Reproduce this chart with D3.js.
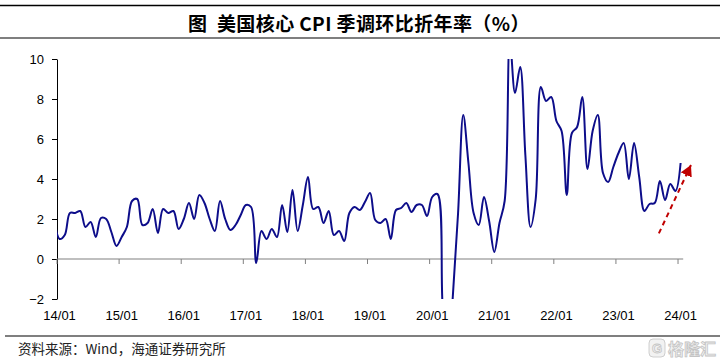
<!DOCTYPE html>
<html>
<head>
<meta charset="utf-8">
<script src="https://cdn.jsdelivr.net/npm/d3@7/dist/d3.min.js"></script>
<style>
  body { margin: 0; background: #fff; }
  svg { display: block; }
</style>
</head>
<body>
<svg width="720" height="362"></svg>
<script>
// tekst
const title = '图  美国核心 CPI 季调环比折年率（%）';
const source = '资料来源：Wind，海通证券研究所';

// maandreeks begint 2013/12 (valt net buiten de plot, wordt geclipt)
const firstMonth = new Date(2013, 11, 1);
const values = [
  2.0,
  1.0, 1.2, 2.3, 2.3, 2.4, 1.6, 1.85, 1.1, 2.05, 2.0, 1.35, 0.65,   // 2014
  1.1, 1.6, 2.9, 3.0, 1.7, 1.8, 2.5, 1.3, 2.5, 2.3, 2.4, 1.5,       // 2015
  2.0, 2.8, 2.0, 3.2, 2.8, 2.0, 1.4, 2.9, 2.0, 1.45, 1.7, 2.2,      // 2016
  2.7, 2.6, -0.2, 1.4, 1.0, 1.5, 1.1, 2.7, 1.35, 3.45, 1.4, 2.7,    // 2017
  4.1, 2.5, 2.6, 1.8, 2.4, 1.2, 1.4, 0.9, 2.3, 2.6, 2.45, 2.85,     // 2018
  3.3, 1.95, 1.8, 2.0, 1.0, 2.45, 2.55, 2.8, 2.35, 2.7, 2.7, 2.15,  // 2019
  3.1, 3.25, -2.3, -5.5, -1.8, 2.3, 7.2, 4.8, 2.3, 1.7, 3.1, 1.9,   // 2020
  0.35, 1.8, 2.9, 11.0, 8.3, 9.6, 5.2, 1.6, 3.0, 8.6, 7.9, 8.1,     // 2021
  6.9, 6.4, 3.2, 6.3, 6.6, 8.1, 4.5, 6.4, 7.2, 4.3, 3.85, 4.6,      // 2022
  5.3, 5.8, 4.0, 5.8, 4.1, 2.4, 2.75, 2.8, 3.9, 2.95, 3.75, 3.4,    // 2023
  4.8                                                              // 2024/01
];
const yTicks = [-2, 0, 2, 4, 6, 8, 10];
const xTickLabels = ['14/01', '15/01', '16/01', '17/01', '18/01', '19/01',
                     '20/01', '21/01', '22/01', '23/01', '24/01'];

// pijl-annotatie (in maandindex t.o.v. 2014/01 en waarde)
const arrowFrom = {m: 115.8, v: 1.28};
const arrowTo = {m: 122.0, v: 4.7};

const svg = d3.select('svg');
const width = +svg.attr('width');
const height = +svg.attr('height');

const margin = {top: 59, right: 37, bottom: 63, left: 57};
const nMonths = 121; // 2014/01 .. 2024/01

const monthIndex = d => (d.getFullYear() - 2014) * 12 + d.getMonth();
const data = values.map((v, i) => ({date: d3.timeMonth.offset(firstMonth, i), value: v}));

// categorie-as: punten in het midden van elke maand
const x = d3.scaleLinear()
    .domain([0, nMonths])
    .range([margin.left, width - margin.right + 0.2]);
const y = d3.scaleLinear()
    .domain([-2, 10])
    .range([height - margin.bottom, margin.top]);

// titel met lijnen
svg.append('line')
    .attr('x1', 0).attr('x2', width).attr('y1', 5.5).attr('y2', 5.5)
    .attr('stroke', '#000').attr('stroke-width', 1.5);
svg.append('text')
    .attr('x', 359).attr('y', 22)
    .attr('text-anchor', 'middle').attr('dominant-baseline', 'central')
    .style('white-space', 'pre')
    .style('font-family', '"Noto Sans CJK SC", sans-serif')
    .style('font-weight', 'bold').style('font-size', '19px')
    .style('letter-spacing', '0.4px')
    .text(title);
svg.append('line')
    .attr('x1', 0).attr('x2', width).attr('y1', 38).attr('y2', 38)
    .attr('stroke', '#000').attr('stroke-width', 1.2);

// clip op het plotgebied
svg.append('clipPath').attr('id', 'plot')
  .append('rect')
    .attr('x', x(0)).attr('y', y(10))
    .attr('width', x(nMonths) - x(0)).attr('height', y(-2) - y(10));

const numFont = '"Liberation Sans", Arial, sans-serif';

// y-as
const yAxis = svg.append('g')
    .attr('transform', `translate(${x(0)},0)`)
    .call(d3.axisLeft(y).tickValues(yTicks).tickSize(5).tickPadding(8).tickSizeOuter(0));
yAxis.select('.domain').attr('stroke', '#000');
yAxis.selectAll('.tick line').attr('stroke', '#000');
yAxis.selectAll('text')
    .style('font-family', numFont).style('font-size', '13px').attr('fill', '#000');

// x-as op y=0
const tickDates = xTickLabels.map(s => new Date(2000 + +s.slice(0, 2), +s.slice(3) - 1, 1));
const xAxis = svg.append('g');
xAxis.append('line')
    .attr('x1', x(0)).attr('x2', x(nMonths))
    .attr('y1', y(0)).attr('y2', y(0))
    .attr('stroke', '#808080').attr('stroke-width', 1.2);
xAxis.selectAll('line.tick').data(tickDates)
  .enter().append('line')
    .attr('class', 'tick')
    .attr('x1', d => x(monthIndex(d))).attr('x2', d => x(monthIndex(d)))
    .attr('y1', y(0)).attr('y2', y(0) + 5)
    .attr('stroke', '#808080').attr('stroke-width', 1);
svg.selectAll('text.xlabel').data(xTickLabels)
  .enter().append('text')
    .attr('class', 'xlabel')
    .attr('x', (d, i) => x(monthIndex(tickDates[i]) + 0.5))
    .attr('y', 320)
    .attr('text-anchor', 'middle')
    .style('font-family', numFont).style('font-size', '13px')
    .text(d => d);

// de lijn
const line = d3.line()
    .x(d => x(monthIndex(d.date) + 0.5))
    .y(d => y(d.value))
    .curve(d3.curveCatmullRom.alpha(0.5));
svg.append('path')
    .datum(data)
    .attr('clip-path', 'url(#plot)')
    .attr('fill', 'none')
    .attr('stroke', '#0d0d8a')
    .attr('stroke-width', 2)
    .attr('d', line);

// rode stippelpijl
svg.append('defs').append('marker')
    .attr('id', 'arrow')
    .attr('markerUnits', 'userSpaceOnUse')
    .attr('markerWidth', 12).attr('markerHeight', 12)
    .attr('refX', 11).attr('refY', 6)
    .attr('orient', 'auto')
  .append('path')
    .attr('d', 'M0,0 L11,6 L0,12 Z')
    .attr('fill', '#c00000');
svg.append('line')
    .attr('x1', x(arrowFrom.m + 0.5)).attr('y1', y(arrowFrom.v))
    .attr('x2', x(arrowTo.m + 0.5)).attr('y2', y(arrowTo.v))
    .attr('stroke', '#c00000').attr('stroke-width', 2)
    .attr('stroke-dasharray', '5,4')
    .attr('marker-end', 'url(#arrow)');

// bron
svg.append('line')
    .attr('x1', 5).attr('x2', width).attr('y1', 336).attr('y2', 336)
    .attr('stroke', '#000').attr('stroke-width', 1.2);
svg.append('text')
    .attr('x', 18).attr('y', 354)
    .style('font-family', '"Noto Sans CJK SC", sans-serif')
    .style('font-size', '13.5px').attr('fill', '#222')
    .text(source);

// watermerk
const wm = svg.append('g').attr('fill', '#f2f2f2').attr('stroke', '#c4c4c4').attr('stroke-width', 0.8);
wm.append('rect')
    .attr('x', 649).attr('y', 339).attr('width', 16).attr('height', 18).attr('rx', 4);
wm.append('text')
    .attr('x', 657).attr('y', 353).attr('text-anchor', 'middle')
    .style('font-family', numFont).style('font-weight', 'bold').style('font-size', '13px')
    .text('G');
wm.append('text')
    .attr('x', 668).attr('y', 355)
    .style('font-family', '"Noto Sans CJK SC", sans-serif').style('font-weight', 'bold')
    .style('font-size', '16px')
    .text('格隆汇');
</script>
</body>
</html>
